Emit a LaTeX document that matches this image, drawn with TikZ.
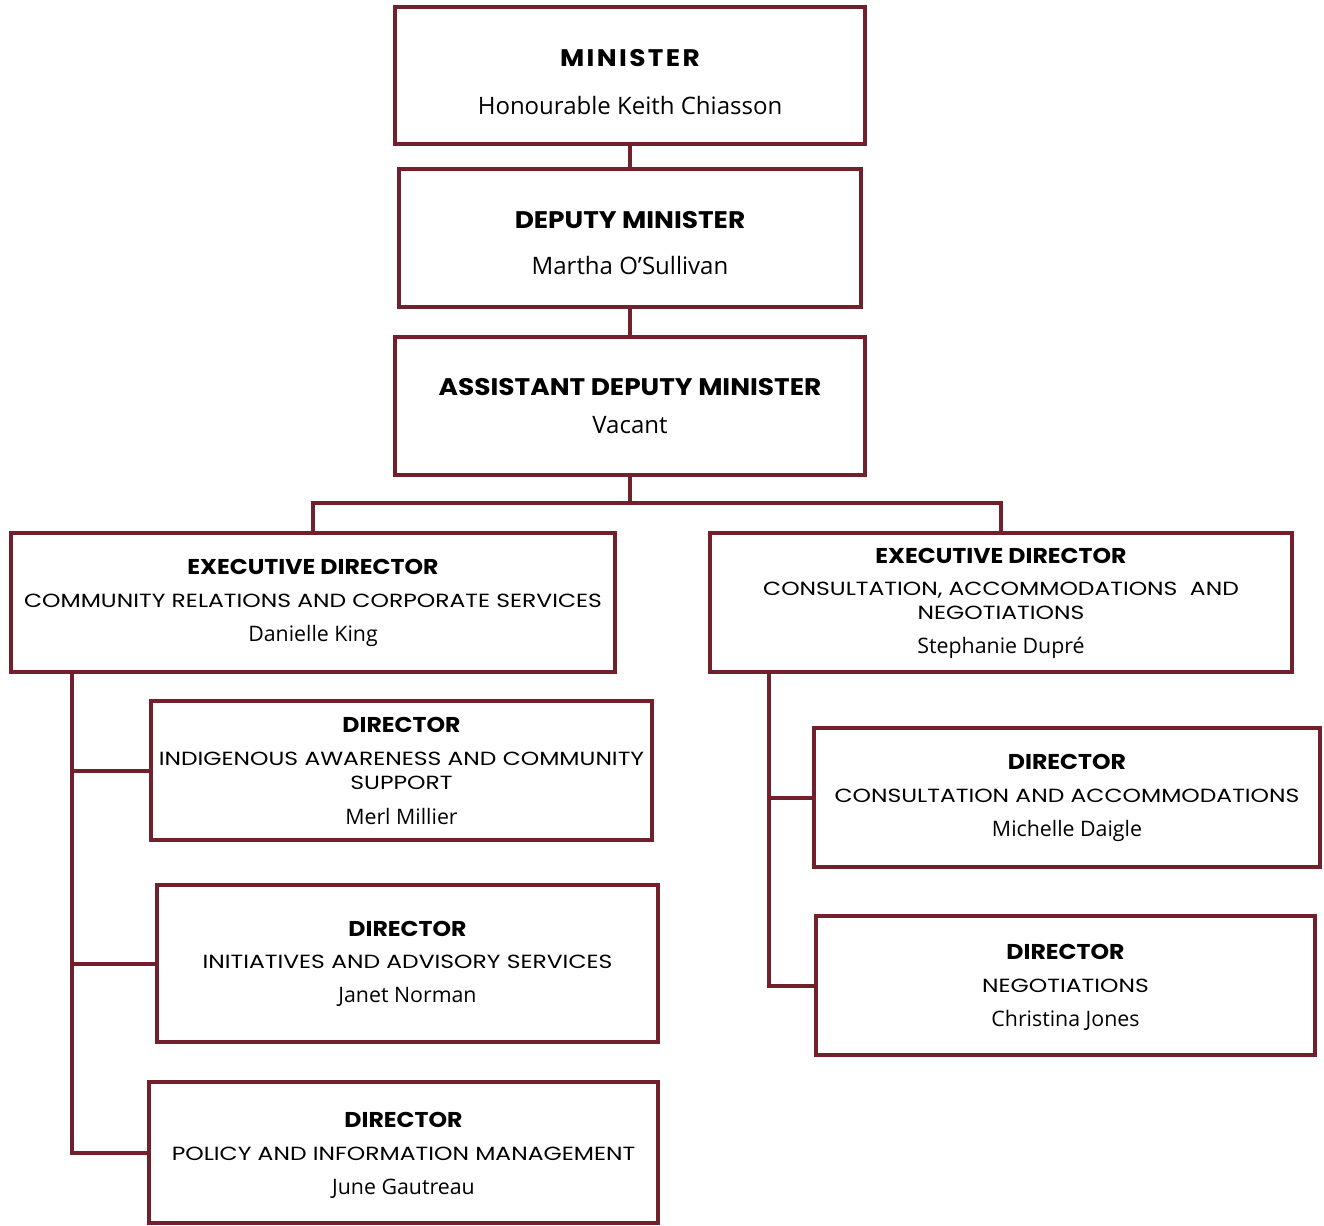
\documentclass[tikz,border=0pt]{standalone}
\usepackage{fontspec}
\setmainfont{Open Sans}
\newfontfamily\popfont{Poppins}[FakeStretch=1.1]
\newfontfamily\deptfont{Poppins}[FakeStretch=1.23]
\usepackage{xcolor}
\definecolor{maroon}{HTML}{72212C}

\newcommand{\bighd}[1]{{\popfont\bfseries\fontsize{18}{18}\selectfont #1}}
\newcommand{\hd}[1]{{\popfont\bfseries\fontsize{16.1}{18}\selectfont #1}}
\newcommand{\dept}[1]{{\deptfont\fontsize{14.3}{18}\selectfont #1}}
\newcommand{\bigwho}[1]{{\fontsize{18}{18}\selectfont #1}}
\newcommand{\who}[1]{{\fontsize{16}{18}\selectfont #1}}
\newcommand{\lift}[1]{\rule{0pt}{#1}}

\tikzset{
  unitbox/.style 2 args={draw=maroon, line width=3pt, inner sep=0pt, align=center,
    font=\fontsize{12}{18}\selectfont,
    minimum width=#1*0.75pt, minimum height=#2*0.75pt},
  link/.style={draw=maroon, line width=3pt}
}

\begin{document}
\begin{tikzpicture}[x=0.75pt, y=-0.75pt]
  \useasboundingbox (0,0) rectangle (1324,1226);

  %% top of the chart
  \node[unitbox={470}{137}] (mn) at (630,75.5)
    {\lift{23pt}\bighd{\addfontfeatures{LetterSpace=10}MINISTER}\\[18pt]\bigwho{Honourable Keith Chiasson}};
  \node[unitbox={462}{138}] (dm) at (630,238)
    {\lift{21pt}\bighd{DEPUTY MINISTER}\\[16.5pt]\bigwho{Martha O'Sullivan}};
  \node[unitbox={470}{138}] (adm) at (630,406)
    {\bighd{ASSISTANT DEPUTY MINISTER}\\[10.5pt]\bigwho{Vacant}};

  \draw[link] (mn) -- (dm);
  \draw[link] (dm) -- (adm);

  %% executive directors
  \node[unitbox={604}{139}] (edl) at (313,602.5)
    {\hd{EXECUTIVE DIRECTOR}\\[6.75pt]\dept{COMMUNITY RELATIONS AND CORPORATE SERVICES}\\[7.5pt]\who{Danielle King}};
  \node[unitbox={582}{139}] (edr) at (1001,602.5)
    {\lift{13.5pt}\hd{EXECUTIVE DIRECTOR}\\[6pt]\dept{CONSULTATION, ACCOMMODATIONS~ AND}\\\dept{NEGOTIATIONS}\\[7.5pt]\who{Stephanie Dupré}};

  \coordinate (split) at (630,503);
  \draw[link] (adm) -- (split) -| (edl);
  \draw[link] (split) -| (edr);

  %% directors, left branch
  \node[unitbox={501}{139}] (d1) at (401.5,770.5)
    {\hd{DIRECTOR}\\[6.75pt]\dept{INDIGENOUS AWARENESS AND COMMUNITY}\\\dept{SUPPORT}\\[8.25pt]\who{Merl Millier}};
  \node[unitbox={501}{157}] (d2) at (407.5,963.5)
    {\hd{DIRECTOR}\\[6pt]\dept{INITIATIVES AND ADVISORY SERVICES}\\[7.5pt]\who{Janet Norman}};
  \node[unitbox={509}{141}] (d3) at (403.5,1152.5)
    {\lift{15pt}\hd{DIRECTOR}\\[6.75pt]\dept{POLICY AND INFORMATION MANAGEMENT}\\[7.5pt]\who{June Gautreau}};

  \coordinate (lroot) at (72,672);
  \draw[link] (lroot) |- (d3.west);
  \draw[link] (lroot |- d1.west) -- (d1.west);
  \draw[link] (lroot |- d2.west) -- (d2.west);

  %% directors, right branch
  \node[unitbox={506}{139}] (d4) at (1067,797.5)
    {\hd{DIRECTOR}\\[6.75pt]\dept{CONSULTATION AND ACCOMMODATIONS}\\[7.5pt]\who{Michelle Daigle}};
  \node[unitbox={499}{139}] (d5) at (1065.5,985.5)
    {\lift{13.5pt}\hd{DIRECTOR}\\[6.75pt]\dept{NEGOTIATIONS}\\[7.5pt]\who{Christina Jones}};

  \coordinate (rroot) at (769,672);
  \draw[link] (rroot) |- (d5.west);
  \draw[link] (rroot |- d4.west) -- (d4.west);
\end{tikzpicture}
\end{document}
